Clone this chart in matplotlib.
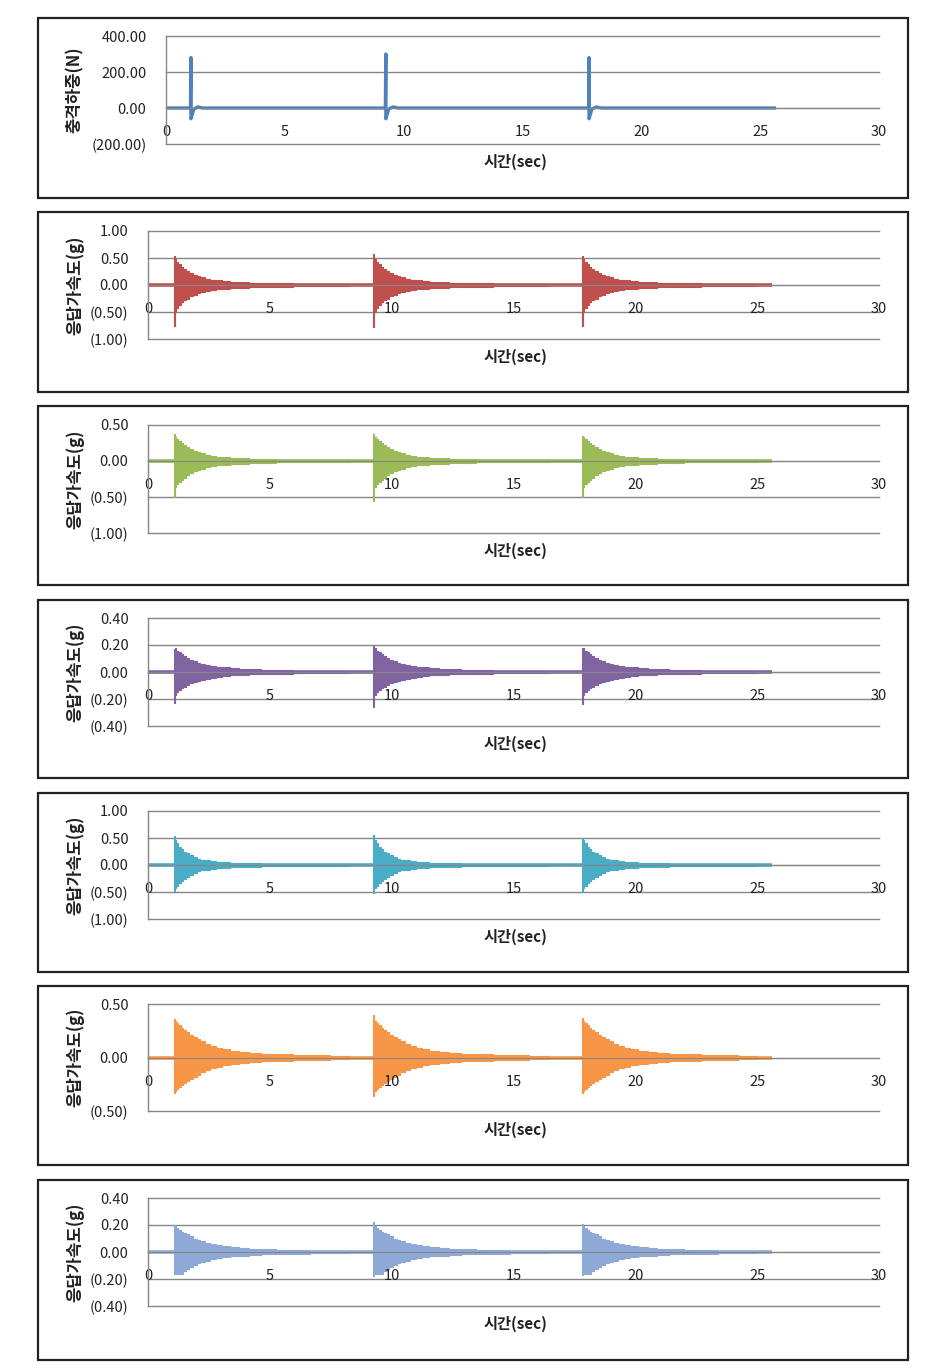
import numpy as np
import matplotlib
matplotlib.use('Agg')
from matplotlib import pyplot as plt
from matplotlib.patches import Rectangle
from matplotlib.ticker import FuncFormatter

plt.rcParams['font.family'] = ['Noto Sans CJK KR', 'DejaVu Sans']

# data
hit_times = [1.05, 9.25, 17.8]      # impact times (sec)
t_end = 25.6                        # end of record (sec)

# impact load panel: spike top / bottom per hit (N)
load_max = [280, 300, 280]
load_min = [-60, -60, -60]
load_dt = [-0.02, 0.0, 0.0, 0.12, 0.3, 0.5]       # spike shape, rel. to hit
load_shape = [0, 'max', 'min', -6, 6, 0]

# response envelopes, time relative to each hit
env_t = [0.0, 0.04, 0.1, 0.2, 0.3, 0.4, 0.5, 0.65, 0.8, 0.95, 1.1, 1.3,
         1.5, 1.75, 2.0, 2.3, 2.7, 3.1, 3.6, 4.2, 4.9, 5.6, 6.4, 7.2]

red_up = [0.53, 0.48, 0.43, 0.38, 0.33, 0.29, 0.26, 0.22, 0.19, 0.16, 0.14, 0.12,
          0.10, 0.085, 0.07, 0.06, 0.05, 0.045, 0.035, 0.03, 0.025, 0.02, 0.015, 0.01]
red_lo = [-0.75, -0.50, -0.43, -0.37, -0.32, -0.28, -0.25, -0.21, -0.18, -0.15, -0.13, -0.11,
          -0.095, -0.08, -0.07, -0.06, -0.05, -0.04, -0.035, -0.03, -0.025, -0.02, -0.015, -0.01]
red_max = [0.53, 0.57, 0.53]
red_min = [-0.75, -0.78, -0.75]

green_up = [0.37, 0.34, 0.31, 0.28, 0.25, 0.22, 0.19, 0.16, 0.14, 0.12, 0.105, 0.09,
            0.075, 0.06, 0.05, 0.045, 0.035, 0.03, 0.025, 0.02, 0.018, 0.015, 0.012, 0.01]
green_lo = [-0.50, -0.36, -0.32, -0.29, -0.26, -0.23, -0.20, -0.17, -0.14, -0.12, -0.105, -0.09,
            -0.075, -0.06, -0.05, -0.045, -0.035, -0.03, -0.025, -0.02, -0.018, -0.015, -0.012, -0.01]
green_max = [0.37, 0.37, 0.35]
green_min = [-0.50, -0.55, -0.50]

purple_up = [0.17, 0.18, 0.155, 0.145, 0.13, 0.115, 0.105, 0.09, 0.08, 0.07, 0.062, 0.054,
             0.047, 0.04, 0.034, 0.028, 0.023, 0.019, 0.016, 0.013, 0.011, 0.009, 0.008, 0.006]
purple_lo = [-0.23, -0.17, -0.15, -0.135, -0.12, -0.11, -0.095, -0.085, -0.075, -0.065, -0.057, -0.05,
             -0.043, -0.036, -0.03, -0.025, -0.02, -0.017, -0.014, -0.012, -0.01, -0.008, -0.007, -0.006]
purple_max = [0.17, 0.19, 0.18]
purple_min = [-0.23, -0.26, -0.24]

aqua_up = [0.53, 0.46, 0.40, 0.34, 0.29, 0.25, 0.22, 0.18, 0.15, 0.12, 0.10, 0.085,
           0.07, 0.06, 0.05, 0.045, 0.035, 0.03, 0.025, 0.02, 0.017, 0.014, 0.012, 0.01]
aqua_lo = [-0.48, -0.43, -0.38, -0.33, -0.29, -0.25, -0.22, -0.18, -0.15, -0.12, -0.10, -0.085,
           -0.07, -0.06, -0.05, -0.045, -0.035, -0.03, -0.025, -0.02, -0.017, -0.014, -0.012, -0.01]
aqua_max = [0.53, 0.55, 0.50]
aqua_min = [-0.48, -0.52, -0.50]

orange_up = [0.36, 0.34, 0.32, 0.30, 0.28, 0.26, 0.24, 0.21, 0.19, 0.17, 0.15, 0.13,
             0.11, 0.09, 0.075, 0.065, 0.05, 0.04, 0.035, 0.03, 0.025, 0.02, 0.015, 0.012]
orange_lo = [-0.33, -0.31, -0.29, -0.28, -0.26, -0.24, -0.22, -0.20, -0.18, -0.16, -0.14, -0.12,
             -0.10, -0.085, -0.07, -0.06, -0.05, -0.04, -0.035, -0.03, -0.025, -0.02, -0.015, -0.012]
orange_max = [0.36, 0.40, 0.37]
orange_min = [-0.33, -0.36, -0.33]

lblue_up = [0.20, 0.19, 0.175, 0.16, 0.15, 0.14, 0.13, 0.115, 0.10, 0.09, 0.08, 0.07,
            0.06, 0.05, 0.043, 0.036, 0.03, 0.024, 0.02, 0.016, 0.013, 0.011, 0.009, 0.008]
lblue_lo = [-0.165, -0.165, -0.165, -0.165, -0.165, -0.14, -0.125, -0.11, -0.095, -0.085, -0.075, -0.065,
            -0.055, -0.046, -0.04, -0.033, -0.027, -0.022, -0.018, -0.015, -0.012, -0.01, -0.009, -0.008]
lblue_max = [0.20, 0.22, 0.21]
lblue_min = [-0.165, -0.175, -0.17]

x_ticks = [0, 5, 10, 15, 20, 25, 30]

# panels: (color, envelope up, envelope low, hit max, hit min, y ticks)
panels = [
    ('#C0504D', red_up, red_lo, red_max, red_min, [-1.0, -0.5, 0.0, 0.5, 1.0]),
    ('#9BBB59', green_up, green_lo, green_max, green_min, [-1.0, -0.5, 0.0, 0.5]),
    ('#8064A2', purple_up, purple_lo, purple_max, purple_min, [-0.4, -0.2, 0.0, 0.2, 0.4]),
    ('#4BACC6', aqua_up, aqua_lo, aqua_max, aqua_min, [-1.0, -0.5, 0.0, 0.5, 1.0]),
    ('#F79646', orange_up, orange_lo, orange_max, orange_min, [-0.5, 0.0, 0.5]),
    ('#8EA9D6', lblue_up, lblue_lo, lblue_max, lblue_min, [-0.4, -0.2, 0.0, 0.2, 0.4]),
]

W, H = 935, 1372
fig = plt.figure(figsize=(W / 100, H / 100), dpi=100)

# layout in pixels: panel box (top, bottom), plot area (left, top, bottom)
boxes = [(18, 198), (212, 392), (406, 585), (600, 778), (793, 972), (986, 1165), (1180, 1360)]
areas = [(166, 36, 144), (148, 231, 339), (148, 425, 533), (148, 618, 726),
         (148, 811, 919), (148, 1004, 1111), (148, 1198, 1306)]
xlab_y = [162, 357, 551, 744, 937, 1130, 1324]
grid_c = '#868686'


def neg_paren(dec):
    def f(v, pos):
        s = '%.*f' % (dec, abs(v))
        return '(%s)' % s if v < -1e-9 else s
    return FuncFormatter(f)


def style_axes(ax, yticks, dec):
    ax.set_xlim(0, 30)
    ax.set_ylim(yticks[0], yticks[-1])
    ax.set_yticks(yticks)
    ax.set_xticks(x_ticks)
    ax.yaxis.set_major_formatter(neg_paren(dec))
    for yv in yticks:
        ax.axhline(yv, color=grid_c, lw=1.0, zorder=0, clip_on=False)
    for s in ['top', 'right']:
        ax.spines[s].set_visible(False)
    ax.spines['left'].set_color(grid_c)
    ax.spines['left'].set_linewidth(1.0)
    ax.spines['bottom'].set_position(('data', 0))
    ax.spines['bottom'].set_color(grid_c)
    ax.tick_params(axis='both', length=0, labelsize=10.5, colors='#222222')
    ax.tick_params(axis='x', pad=12.5)
    ax.tick_params(axis='y', pad=14)


for i in range(7):
    top, bot = boxes[i]
    fig.patches.append(Rectangle((38 / W, 1 - bot / H), 870 / W, (bot - top) / H,
                                 transform=fig.transFigure, fill=False,
                                 edgecolor='#222222', lw=1.6))
    left, atop, abot = areas[i]
    ax = fig.add_axes([left / W, 1 - abot / H, (879 - left) / W, (abot - atop) / H])

    if i == 0:
        t = [0.0]
        y = [0.0]
        for k, h in enumerate(hit_times):
            for dt, v in zip(load_dt, load_shape):
                t.append(h + dt)
                if v == 'max':
                    y.append(load_max[k])
                elif v == 'min':
                    y.append(load_min[k])
                else:
                    y.append(v)
        t.append(t_end)
        y.append(0.0)
        ax.plot(t, y, color='#4F81BD', lw=2.4)
        style_axes(ax, [-200, 0, 200, 400], 2)
        ylab = '충격하중(N)'
    else:
        color, up, lo, pmax, pmin, yt = panels[i - 1]
        ax.plot([0, t_end], [0, 0], color=color, lw=2.6, solid_capstyle='butt')
        for k, h in enumerate(hit_times):
            tt = [h + d for d in env_t]
            uu = [pmax[k]] + up[1:]
            ll = [pmin[k]] + lo[1:]
            ax.fill_between(tt, ll, uu, step='post', color=color, lw=0.8,
                            edgecolor=color)
        style_axes(ax, yt, 2)
        ylab = '응답가속도(g)'

    fig.text(75 / W, 1 - (atop + abot) / 2 / H, ylab, rotation=90, ha='center',
             va='center', fontsize=12, fontweight='bold', color='#222222')
    fig.text(515 / W, 1 - xlab_y[i] / H, '시간(sec)', ha='center', va='center',
             fontsize=11, fontweight='bold', color='#222222')

fig.savefig('out.png', dpi=100)
